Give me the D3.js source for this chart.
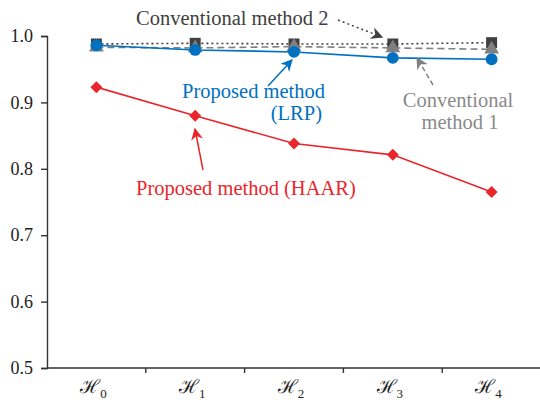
<!DOCTYPE html>
<html>
<head>
<meta charset="utf-8">
<script src="https://cdn.jsdelivr.net/npm/d3@7.9.0/dist/d3.min.js"></script>
<style>
  body { margin: 0; background: #fff; }
  svg { display: block; font-family: "Liberation Serif", "Times New Roman", "DejaVu Serif", serif; }
</style>
</head>
<body>
<svg width="540" height="400"></svg>
<script>
// categories (H_0 .. H_4)
const categories = ['0', '1', '2', '3', '4'];
const yTicks = [0.5, 0.6, 0.7, 0.8, 0.9, 1.0];

// series values
const conv2 = [0.988, 0.989, 0.988, 0.988, 0.990];
const conv1 = [0.983, 0.982, 0.984, 0.982, 0.980];
const lrp   = [0.986, 0.979, 0.976, 0.967, 0.965];
const haar  = [0.923, 0.880, 0.838, 0.821, 0.765];

const svg = d3.select('svg');

let x = d3.scaleBand().domain(categories).range([47, 541]);
let y = d3.scaleLinear().domain([0.5, 1.0]).range([368, 36]);

// y axis
let yAxis = svg.append('g')
  .attr('transform', 'translate(47,0)')
  .call(d3.axisLeft(y).tickValues(yTicks).tickFormat(d3.format('.1f')).tickSize(6).tickPadding(8));
yAxis.selectAll('path, line').attr('stroke', '#333').attr('stroke-width', 1.4);
yAxis.selectAll('text').attr('font-size', 18).attr('fill', '#222')
  .attr('font-family', '"Liberation Serif", "Times New Roman", serif');

// x axis: line, ticks at band boundaries, labels at band centres
let xg = svg.append('g').attr('transform', 'translate(0,368)');
xg.append('line').attr('x1', 47).attr('x2', 541).attr('stroke', '#333').attr('stroke-width', 1.6);
xg.selectAll('line.tick')
  .data(categories.slice(1))
  .join('line')
  .attr('class', 'tick')
  .attr('x1', (d) => x(d)).attr('x2', (d) => x(d))
  .attr('y1', 0).attr('y2', 5)
  .attr('stroke', '#333').attr('stroke-width', 1.4);
let lab = xg.selectAll('text')
  .data(categories)
  .join('text')
  .attr('x', (d) => x(d) + x.bandwidth() / 2 - 3)
  .attr('y', 25)
  .attr('text-anchor', 'middle')
  .attr('fill', '#222')
  .attr('font-size', 19);
lab.append('tspan').text('\u210B');
lab.append('tspan').attr('dy', 5).attr('font-size', 13).text((d) => d);

// arrow markers
let defs = svg.append('defs');
function marker(id, color) {
  defs.append('marker')
    .attr('id', id)
    .attr('viewBox', '0 0 10 10')
    .attr('refX', 9).attr('refY', 5)
    .attr('markerWidth', 12).attr('markerHeight', 12)
    .attr('markerUnits', 'userSpaceOnUse')
    .attr('orient', 'auto')
    .append('path')
    .attr('d', 'M0,0 L10,5 L0,10 L3,5 z')
    .attr('fill', color);
}
marker('a-dark', '#404040');
marker('a-gray', '#808080');
marker('a-blue', '#0070c0');
marker('a-red', '#e8262c');

// series, drawn back to front
const series = [
  { values: conv2, color: '#404040', dash: '2,3', symbol: d3.symbolSquare, size: 120, rot: 0 },
  { values: conv1, color: '#808080', dash: '7,4', symbol: d3.symbolTriangle, size: 95, rot: 0 },
  { values: lrp, color: '#0070c0', dash: null, symbol: d3.symbolCircle, size: 110, rot: 0 },
  { values: haar, color: '#e8262c', dash: null, symbol: d3.symbolSquare, size: 72, rot: 45 },
];

let line = d3.line()
  .x((d, i) => x(categories[i]) + x.bandwidth() / 2)
  .y((d) => y(d));

series.forEach((s) => {
  svg.append('path')
    .attr('d', line(s.values))
    .attr('fill', 'none')
    .attr('stroke', s.color)
    .attr('stroke-width', 1.6)
    .attr('stroke-dasharray', s.dash);
  svg.append('g').selectAll('path')
    .data(s.values)
    .join('path')
    .attr('d', d3.symbol(s.symbol, s.size))
    .attr('transform', (d, i) => `translate(${x(categories[i]) + x.bandwidth() / 2},${y(d)}) rotate(${s.rot})`)
    .attr('fill', s.color);
});

// annotations
function note(lines, color, anchor, fontSize) {
  lines.forEach(([tx, ty, str]) => {
    svg.append('text')
      .attr('x', tx).attr('y', ty)
      .attr('text-anchor', anchor)
      .attr('fill', color)
      .attr('font-size', fontSize)
      .text(str);
  });
}
function arrow(x1, y1, x2, y2, color, id, dash) {
  svg.append('line')
    .attr('x1', x1).attr('y1', y1).attr('x2', x2).attr('y2', y2)
    .attr('stroke', color).attr('stroke-width', 1.5)
    .attr('stroke-dasharray', dash)
    .attr('marker-end', `url(#${id})`);
}

note([[136, 25, 'Conventional method 2']], '#404040', 'start', 20.5);
arrow(338, 20, 382, 37, '#404040', 'a-dark', '2,3');

note([[458, 107, 'Conventional'], [460, 129, 'method 1']], '#8a8a8a', 'middle', 20.5);
arrow(433, 85, 417, 58, '#808080', 'a-gray', '5,3');

note([[325, 98, 'Proposed method'], [322, 120, '(LRP)']], '#0070c0', 'end', 20.5);
arrow(268, 86, 292, 60, '#0070c0', 'a-blue', null);

note([[136, 195, 'Proposed method (HAAR)']], '#e8262c', 'start', 20.5);
arrow(203, 170, 195, 129, '#e8262c', 'a-red', null);
</script>
</body>
</html>
